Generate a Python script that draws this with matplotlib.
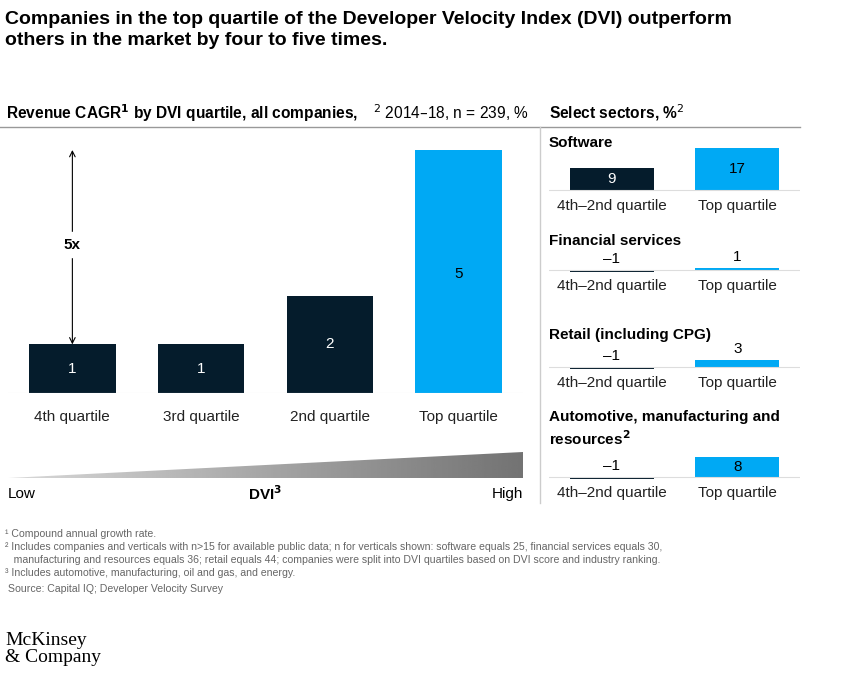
import matplotlib
matplotlib.use("Agg")
import matplotlib.pyplot as plt
import numpy as np
from matplotlib.patches import Polygon

plt.rcParams['font.family'] = ['Liberation Sans', 'DejaVu Sans']

quartiles = ["4th quartile", "3rd quartile", "2nd quartile", "Top quartile"]
cagr = [1, 1, 2, 5]
sectors = ["Software", "Financial services", "Retail (including CPG)", "Automotive, manufacturing and\nresources$^\\mathbf{2}$"]
sector_groups = ["4th\u20132nd quartile", "Top quartile"]
sector_vals = [[9, 17], [-1, 1], [-1, 3], [-1, 8]]

NAVY = "#051C2C"; BLUE = "#00A9F4"; GRAY = "#4d4d4d"
W, H = 845, 680
fig = plt.figure(figsize=(W/100, H/100), dpi=100)

def ax_px(l, t, r, b):
    return fig.add_axes([l/W, 1-b/H, (r-l)/W, (b-t)/H])
def fy(y): return 1-y/H
def fx(x): return x/W

fig.text(fx(5), fy(30), "Companies in the top quartile of the Developer Velocity Index (DVI) outperform\nothers in the market by four to five times.",
         fontsize=14, fontweight='bold', color='black', va='center', linespacing=1.35)
fig.text(fx(6), fy(113), "Revenue CAGR$^\\mathbf{1}$ by DVI quartile, all companies,", fontsize=11.2, fontweight='bold', va='center')
fig.text(fx(373), fy(113), "$^2$ 2014\u201318, n = 239, %", fontsize=11.2, va='center', ha='left')
fig.text(fx(549), fy(113), "Select sectors, %$^2$", fontsize=11.2, fontweight='bold', va='center')
fig.add_artist(plt.Line2D([0, fx(800)], [fy(127)]*2, color='#999999', lw=1))
fig.add_artist(plt.Line2D([fx(540)]*2, [fy(127), fy(503)], color='#cccccc', lw=1))

# main chart
ax = ax_px(8, 150, 523, 393)
x = np.arange(len(quartiles))
cols = [NAVY]*3 + [BLUE]
ax.bar(x, cagr, width=0.67, color=cols)
ax.set_xlim(-0.33*1.0-0.0, 3.33)
ax.set_xlim(-0.5+0.0, 3.5)
ax.set_ylim(0, 5)
for i, v in enumerate(cagr):
    ax.text(i, v/2 if v < 5 else 2.45, str(v), ha='center', va='center', fontsize=11,
            color='white' if i < 3 else 'black')
    ax.text(i, -0.5, quartiles[i], ha='center', va='center', fontsize=11, color='#222222')
ax.annotate("", xy=(0, 5), xytext=(0, 1), arrowprops=dict(arrowstyle='<->', color='black', lw=0.8, shrinkA=0, shrinkB=0))
ax.text(0, 3.05, "5x", ha='center', va='center', fontsize=11, fontweight='bold', backgroundcolor='white')
ax.axhline(0, color='#dddddd', lw=0.8)
ax.axis('off')
ax.set_clip_on(False)

# DVI wedge
wax = ax_px(8, 452, 523, 478)
grad = np.linspace(0.85, 0.45, 256)[None, :]
im = wax.imshow(grad, cmap='gray', vmin=0, vmax=1, extent=[0, 1, 0, 1], aspect='auto')
poly = Polygon([[0, 0], [1, 0], [1, 1]], transform=wax.transData, facecolor='none', edgecolor='none')
wax.add_patch(poly); im.set_clip_path(poly)
wax.set_xlim(0, 1); wax.set_ylim(0, 1); wax.axis('off')
fig.text(fx(8), fy(494), "Low", fontsize=11, va='center')
fig.text(fx(523), fy(494), "High", fontsize=11, va='center', ha='right')
fig.text(fx(265), fy(494), "DVI$^\\mathbf{3}$", fontsize=11, fontweight='bold', va='center', ha='center')

# sectors
titles_y = [143, 241, 335, 429]
bases = [190, 270, 367, 477]
PX = 2.47
for k in range(4):
    fig.text(fx(549), fy(titles_y[k]), sectors[k], fontsize=11, fontweight='bold', va='center', linespacing=1.3)
    b = bases[k]
    sa = ax_px(549, b-17*PX, 800, b+3*PX)
    sa.set_xlim(-0.5, 1.5); sa.set_ylim(-3, 17)
    sa.axhline(0, color='#dddddd', lw=0.8)
    vals = sector_vals[k]
    sa.bar([0, 1], vals, width=0.67, color=[NAVY, BLUE])
    for i, v in enumerate(vals):
        s = str(v) if v >= 0 else "\u2013" + str(-v)
        if v >= 8:
            sa.text(i, v/2, s, ha='center', va='center', fontsize=11, color='white' if i == 0 else 'black')
        else:
            sa.text(i, max(v, 0) + 1.6, s, ha='center', va='bottom', fontsize=11)
        sa.text(i, -16/PX, sector_groups[i], ha='center', va='center', fontsize=11, color='#222222')
    sa.axis('off')

notes = ["\u00b9 Compound annual growth rate.",
         "\u00b2 Includes companies and verticals with n>15 for available public data; n for verticals shown: software equals 25, financial services equals 30,",
         "   manufacturing and resources equals 36; retail equals 44; companies were split into DVI quartiles based on DVI score and industry ranking.",
         "\u00b3 Includes automotive, manufacturing, oil and gas, and energy.",
         " Source: Capital IQ; Developer Velocity Survey"]
for i, (n, y) in enumerate(zip(notes, [534, 547, 560, 573, 589])):
    fig.text(fx(5), fy(y), n, fontsize=7.6, color='#666666', va='center')

fig.text(fx(5), fy(649), "McKinsey\n& Company", fontsize=14, family='Liberation Serif', va='center', linespacing=1.0)
fig.savefig("out.png", dpi=100)
